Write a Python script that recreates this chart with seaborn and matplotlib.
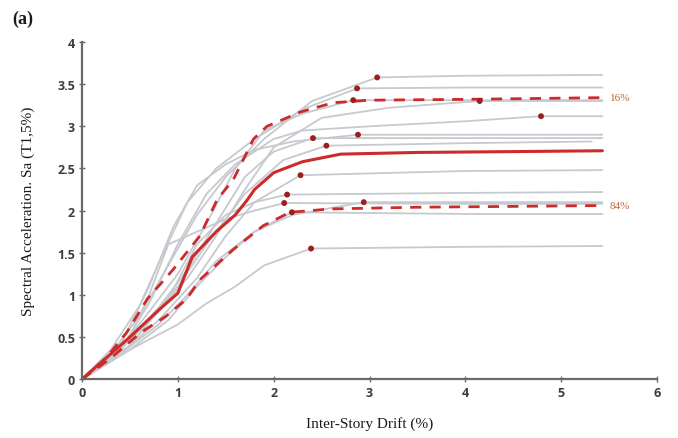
import matplotlib
matplotlib.use("Agg")
import matplotlib.pyplot as plt
import seaborn as sns
import pandas as pd
import numpy as np

# Individual ground-motion IDA curves: (drift %, Sa)
gm_x = [
    [0, 0.3, 0.6, 0.9, 1.2, 1.5, 1.9, 2.4, 3.08, 4.0, 5.43],
    [0, 0.3, 0.6, 0.85, 1.1, 1.4, 1.8, 2.3, 2.87, 4.0, 5.43],
    [0, 0.35, 0.7, 1.0, 1.3, 1.6, 1.9, 2.3, 2.83, 4.0, 5.43],
    [0, 0.4, 0.8, 1.1, 1.4, 1.7, 2.0, 2.5, 3.2, 4.15, 5.43],
    [0, 0.4, 0.7, 1.0, 1.3, 1.6, 2.0, 2.3, 3.0, 4.0, 4.79, 5.43],
    [0, 0.4, 0.7, 0.95, 1.2, 1.5, 1.8, 2.2, 2.88, 4.0, 5.43],
    [0, 0.4, 0.8, 1.1, 1.4, 1.7, 2.0, 2.41, 4.0, 5.43],
    [0, 0.3, 0.7, 1.0, 1.3, 1.7, 2.1, 2.55, 4.0, 5.32],
    [0, 0.4, 0.8, 1.2, 1.5, 1.8, 2.28, 4.0, 5.43],
    [0, 0.5, 0.9, 1.2, 1.5, 1.8, 2.14, 4.0, 5.43],
    [0, 0.4, 0.8, 1.1, 1.4, 1.8, 2.2, 2.94, 4.0, 5.43],
    [0, 0.5, 0.7, 0.9, 1.2, 1.5, 1.8, 2.11, 4.0, 5.43],
    [0, 0.5, 0.9, 1.2, 1.5, 1.8, 2.19, 4.0, 5.43],
    [0, 0.5, 1.0, 1.3, 1.6, 1.9, 2.39, 4.0, 5.43],
]
gm_y = [
    [0, 0.3, 0.75, 1.35, 1.95, 2.4, 2.85, 3.3, 3.58, 3.60, 3.61],
    [0, 0.35, 0.87, 1.5, 2.1, 2.5, 2.85, 3.2, 3.45, 3.46, 3.46],
    [0, 0.3, 0.8, 1.25, 1.85, 2.5, 2.95, 3.15, 3.31, 3.31, 3.31],
    [0, 0.35, 0.8, 1.2, 1.7, 2.25, 2.75, 3.1, 3.22, 3.30, 3.30],
    [0, 0.35, 0.9, 1.6, 2.2, 2.55, 2.85, 2.95, 3.0, 3.06, 3.12, 3.12],
    [0, 0.4, 1.1, 1.8, 2.3, 2.55, 2.72, 2.82, 2.90, 2.90, 2.90],
    [0, 0.35, 0.85, 1.3, 1.85, 2.4, 2.7, 2.86, 2.86, 2.86],
    [0, 0.25, 0.7, 1.1, 1.6, 2.2, 2.6, 2.77, 2.80, 2.82],
    [0, 0.3, 0.7, 1.2, 1.7, 2.1, 2.42, 2.47, 2.48],
    [0, 0.4, 0.95, 1.6, 1.95, 2.1, 2.19, 2.21, 2.22],
    [0, 0.3, 0.65, 1.0, 1.4, 1.75, 1.95, 2.10, 2.10, 2.10],
    [0, 0.5, 1.0, 1.6, 1.75, 1.9, 2.0, 2.09, 2.08, 2.08],
    [0, 0.35, 0.7, 1.1, 1.45, 1.75, 1.98, 1.96, 1.96],
    [0, 0.35, 0.65, 0.9, 1.1, 1.35, 1.55, 1.57, 1.58],
]

# Collapse / capacity points marked on the curves
cap_x = [3.08, 2.87, 2.83, 4.15, 4.79, 2.88, 2.41, 2.55, 2.28, 2.14, 2.94, 2.11, 2.19, 2.39]
cap_y = [3.58, 3.45, 3.31, 3.30, 3.12, 2.90, 2.86, 2.77, 2.42, 2.19, 2.10, 2.09, 1.98, 1.55]

# Summarised fractile curves
med_x = [0, 0.2, 0.5, 0.8, 1.0, 1.15, 1.4, 1.6, 1.72, 1.8, 2.0, 2.3, 2.7, 3.5, 4.5, 5.43]
med_y = [0, 0.2, 0.5, 0.82, 1.02, 1.45, 1.75, 1.95, 2.12, 2.25, 2.45, 2.58, 2.67, 2.69, 2.70, 2.71]
p16_x = [0, 0.25, 0.47, 0.68, 0.95, 1.23, 1.41, 1.58, 1.79, 1.93, 2.28, 2.62, 3.0, 4.0, 5.43]
p16_y = [0, 0.25, 0.56, 0.95, 1.30, 1.70, 2.13, 2.37, 2.85, 3.00, 3.17, 3.28, 3.31, 3.32, 3.34]
p84_x = [0, 0.29, 0.61, 0.88, 1.09, 1.23, 1.58, 1.89, 2.17, 2.6, 3.5, 4.5, 5.43]
p84_y = [0, 0.24, 0.55, 0.75, 0.95, 1.18, 1.54, 1.82, 1.98, 2.02, 2.04, 2.05, 2.06]

fractile_labels = ["16%", "84%"]

rows = []
for i, (xs, ys) in enumerate(zip(gm_x, gm_y)):
    for x, y in zip(xs, ys):
        rows.append({"gm": i, "drift": x, "sa": y})
gm_df = pd.DataFrame(rows)

sns.set_theme(style="white")
plt.rcParams["font.family"] = ["Liberation Serif", "DejaVu Serif"]

fig = plt.figure(figsize=(6.78, 4.39), dpi=100)
ax = fig.add_axes([0.121, 0.134, 0.848, 0.768])

gray = "#c6c9cd"
red = "#cc2b2b"

sns.lineplot(data=gm_df, x="drift", y="sa", units="gm", estimator=None,
             color=gray, lw=1.3, ax=ax, sort=False)

sns.lineplot(x=med_x, y=med_y, color=red, lw=2.2, ax=ax, sort=False)
sns.lineplot(x=p16_x, y=p16_y, color=red, lw=2.0, ax=ax, sort=False,
             linestyle=(0, (4, 3)))
sns.lineplot(x=p84_x, y=p84_y, color=red, lw=2.0, ax=ax, sort=False,
             linestyle=(0, (4, 3)))

sns.scatterplot(x=cap_x, y=cap_y, color="#9a1f1f", s=18, edgecolor="none",
                ax=ax, zorder=5)

label_col = "#c0643e"
ax.text(p16_x[-1] + 0.08, p16_y[-1], fractile_labels[0], color=label_col,
        fontsize=8, va="center", ha="left")
ax.text(p84_x[-1] + 0.08, p84_y[-1], fractile_labels[1], color=label_col,
        fontsize=8, va="center", ha="left")

ax.set_xlim(0, 6)
ax.set_ylim(0, 4)
ax.set_xticks(range(0, 7))
ax.set_yticks(np.arange(0, 4.01, 0.5))
ax.set_yticklabels(["0", "0.5", "1", "1.5", "2", "2.5", "3", "3.5", "4"])

for side in ["top", "right"]:
    ax.spines[side].set_visible(False)
for side in ["left", "bottom"]:
    ax.spines[side].set_color("#6a6a6a")
    ax.spines[side].set_linewidth(1.6)

ax.tick_params(axis="both", direction="inout", length=4, width=1,
               color="#6a6a6a", labelsize=9, labelcolor="#3c3c3c", pad=3,
               left=True, bottom=True)
for lbl in ax.get_xticklabels() + ax.get_yticklabels():
    lbl.set_fontfamily(["Open Sans", "DejaVu Sans"])
    lbl.set_fontweight("bold")

ax.set_xlabel("Inter-Story Drift (%)", fontsize=11, color="#1a1a1a", labelpad=12)
ax.set_ylabel("Spectral Acceleration. Sa (T1,5%)", fontsize=11, color="#1a1a1a",
              labelpad=16)
ax.grid(False)

fig.text(0.018, 0.955, "(a)", fontsize=13, fontweight="bold", color="#1a1a1a",
         va="center", ha="left")

fig.savefig("out.png", dpi=100)
